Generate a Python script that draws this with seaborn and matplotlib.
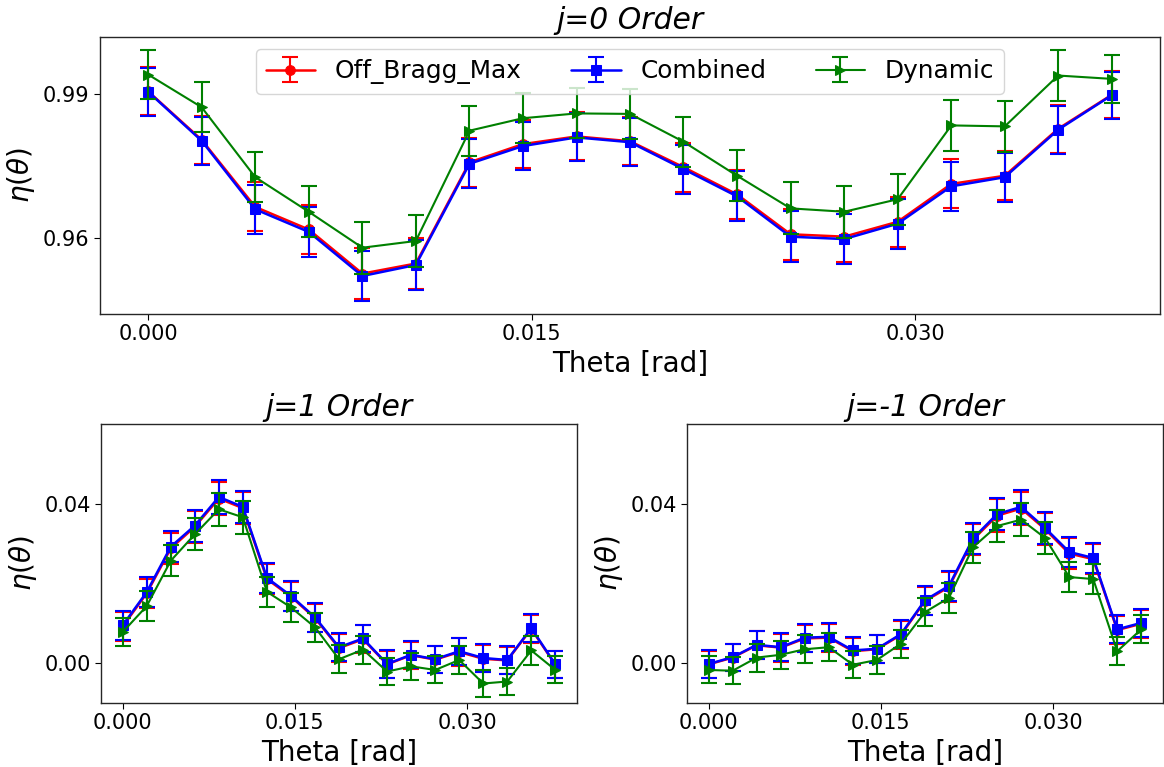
import matplotlib
matplotlib.use("Agg")
import matplotlib.pyplot as plt
import seaborn as sns
from matplotlib.legend_handler import HandlerTuple

# Incidence angle (rad), 0.12 degree steps
theta = [0.00000, 0.00209, 0.00419, 0.00628, 0.00838, 0.01047, 0.01257,
         0.01466, 0.01676, 0.01885, 0.02094, 0.02304, 0.02513, 0.02723,
         0.02932, 0.03142, 0.03351, 0.03560, 0.03770]

series_names = ["Off_Bragg_Max", "Combined", "Dynamic"]
xtick_values = [0.0, 0.015, 0.030]
xtick_labels = ["0.000", "0.015", "0.030"]

# j = 0 order efficiency
j0_off = [0.9905, 0.9804, 0.9664, 0.9617, 0.9525, 0.9546, 0.9757, 0.9795, 0.9811,
          0.9801, 0.9747, 0.9690, 0.9607, 0.9602, 0.9633, 0.9712, 0.9729, 0.9827, 0.9898]
j0_comb = [0.9904, 0.9802, 0.9659, 0.9612, 0.9520, 0.9543, 0.9754, 0.9791, 0.9809,
           0.9799, 0.9743, 0.9686, 0.9602, 0.9597, 0.9629, 0.9707, 0.9726, 0.9825, 0.9897]
j0_dyn = [0.9940, 0.9872, 0.9726, 0.9654, 0.9579, 0.9593, 0.9823, 0.9849, 0.9859,
          0.9858, 0.9800, 0.9729, 0.9661, 0.9654, 0.9680, 0.9834, 0.9832, 0.9938, 0.9931]
j0_err_off = [0.0050, 0.0050, 0.0051, 0.0052, 0.0053, 0.0053, 0.0051, 0.0050, 0.0050,
              0.0050, 0.0051, 0.0052, 0.0053, 0.0053, 0.0052, 0.0051, 0.0051, 0.0050, 0.0049]
j0_err_comb = j0_err_off
j0_err_dyn = [0.0051, 0.0052, 0.0052, 0.0053, 0.0054, 0.0054, 0.0052, 0.0052, 0.0052,
              0.0052, 0.0052, 0.0053, 0.0054, 0.0054, 0.0053, 0.0053, 0.0053, 0.0054, 0.0050]

# j = 1 order efficiency
j1_off = [0.0092, 0.0175, 0.0288, 0.0342, 0.0413, 0.0389, 0.0211, 0.0167, 0.0113,
          0.0038, 0.0060, -0.0003, 0.0020, 0.0009, 0.0028, 0.0011, 0.0007, 0.0086, -0.0004]
j1_comb = [0.0095, 0.0178, 0.0292, 0.0345, 0.0417, 0.0392, 0.0214, 0.0169, 0.0115,
           0.0040, 0.0062, -0.0002, 0.0021, 0.0010, 0.0030, 0.0013, 0.0008, 0.0088, -0.0003]
j1_dyn = [0.0078, 0.0143, 0.0257, 0.0323, 0.0386, 0.0366, 0.0179, 0.0140, 0.0090,
          0.0010, 0.0034, -0.0021, -0.0008, -0.0017, 0.0008, -0.0051, -0.0046, 0.0032, -0.0017]
j1_err = [0.0036, 0.0037, 0.0039, 0.0040, 0.0042, 0.0041, 0.0038, 0.0037, 0.0036,
          0.0035, 0.0035, 0.0034, 0.0034, 0.0034, 0.0034, 0.0034, 0.0034, 0.0036, 0.0034]

# j = -1 order efficiency
jm1_off = [-0.0003, 0.0014, 0.0045, 0.0039, 0.0062, 0.0064, 0.0030, 0.0035, 0.0071,
           0.0156, 0.0191, 0.0310, 0.0370, 0.0388, 0.0336, 0.0275, 0.0261, 0.0083, 0.0099]
jm1_comb = [-0.0002, 0.0015, 0.0046, 0.0040, 0.0064, 0.0066, 0.0032, 0.0036, 0.0073,
            0.0158, 0.0194, 0.0313, 0.0374, 0.0392, 0.0339, 0.0279, 0.0264, 0.0085, 0.0101]
jm1_dyn = [-0.0017, -0.0019, 0.0014, 0.0021, 0.0035, 0.0040, -0.0004, 0.0008, 0.0049,
           0.0128, 0.0164, 0.0291, 0.0344, 0.0360, 0.0314, 0.0216, 0.0211, 0.0030, 0.0085]
jm1_err = [0.0034, 0.0034, 0.0035, 0.0035, 0.0035, 0.0035, 0.0034, 0.0035, 0.0035,
           0.0036, 0.0037, 0.0039, 0.0041, 0.0042, 0.0040, 0.0038, 0.0038, 0.0035, 0.0035]

colors = ["red", "blue", "green"]
markers = ["o", "s", ">"]
line_widths = [1.8, 1.8, 1.5]

sns.set_style("ticks")
plt.rcParams["font.family"] = ["DejaVu Sans"]
plt.rcParams["mathtext.fontset"] = "dejavusans"
plt.rcParams.update({
    "text.color": "black",
    "axes.labelcolor": "black",
    "xtick.color": "black",
    "ytick.color": "black",
    "axes.edgecolor": "black",
})

TICK_FS = 15
LABEL_FS = 20
TITLE_FS = 21.5
LEGEND_FS = 17.8


def draw_panel(ax, values, errors, title):
    handles = []
    for i, (y, err) in enumerate(zip(values, errors)):
        z = 2 + i * 0.3
        sns.lineplot(x=theta, y=y, ax=ax, color=colors[i], marker=markers[i],
                     markersize=7, markeredgecolor=colors[i], linewidth=line_widths[i],
                     zorder=z, sort=False)
        line = ax.lines[-1]
        eb = ax.errorbar(theta, y, yerr=err, fmt="none", ecolor=colors[i],
                         elinewidth=1.5, capsize=6, capthick=1.5,
                         zorder=z + 0.1)
        handles.append((line, eb))
    ax.set_title(title, fontsize=TITLE_FS, fontstyle="italic", color="black")
    ax.set_xlabel("Theta [rad]", fontsize=LABEL_FS)
    ax.set_ylabel(r"$\eta(\theta)$", fontsize=LABEL_FS)
    ax.set_xticks(xtick_values)
    ax.set_xticklabels(xtick_labels)
    ax.tick_params(labelsize=TICK_FS, length=4, width=0.8)
    for sp in ax.spines.values():
        sp.set_visible(True)
        sp.set_color("0.15")
        sp.set_linewidth(1.0)
    return handles


fig = plt.figure(figsize=(11.64, 7.67), dpi=100)
ax0 = fig.add_axes([0.0859, 0.5906, 0.9107, 0.3611])
ax1 = fig.add_axes([0.0868, 0.0834, 0.4089, 0.3638])
ax2 = fig.add_axes([0.5902, 0.0834, 0.4089, 0.3638])

h = draw_panel(ax0, [j0_off, j0_comb, j0_dyn], [j0_err_off, j0_err_comb, j0_err_dyn],
               "j=0 Order")
ax0.set_yticks([0.96, 0.99])
ax0.set_yticklabels(["0.96", "0.99"])
ax0.legend(handles=h, labels=series_names, loc="upper center", ncol=3,
           fontsize=LEGEND_FS, handler_map={tuple: HandlerTuple(ndivide=1)},
           columnspacing=2.0, borderaxespad=0.5)

draw_panel(ax1, [j1_off, j1_comb, j1_dyn], [j1_err, j1_err, j1_err], "j=1 Order")
draw_panel(ax2, [jm1_off, jm1_comb, jm1_dyn], [jm1_err, jm1_err, jm1_err], "j=-1 Order")
for ax in (ax1, ax2):
    ax.set_ylim(-0.01, 0.06)
    ax.set_yticks([0.0, 0.04])
    ax.set_yticklabels(["0.00", "0.04"])

fig.savefig("out.png", dpi=100)
